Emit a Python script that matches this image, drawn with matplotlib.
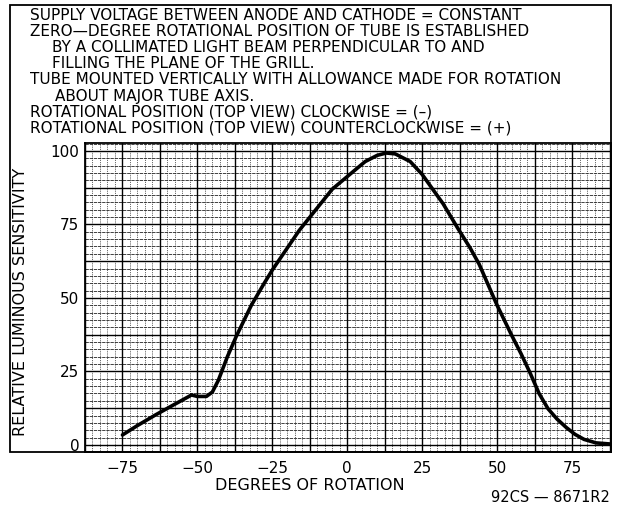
import matplotlib.pyplot as plt
from matplotlib.patches import Rectangle
from matplotlib.ticker import MultipleLocator

# curve
degrees = [-75, -70, -64, -58, -53, -52, -50, -47, -45, -43, -40, -37, -32, -28,
           -25, -16, -5, 2, 6, 10, 13, 16, 21, 25, 32, 37, 41, 44, 50, 55, 58,
           61, 64, 67, 70, 73, 76, 79, 83, 88]
sensitivity = [3.4, 6.6, 10.2, 13.6, 16.4, 17.0, 16.5, 16.5, 18.0, 22.0, 30.0,
               37.0, 47.5, 54.5, 59.5, 73.0, 87.0, 93.0, 96.4, 98.5, 99.3, 99.0,
               96.4, 92.0, 82.0, 73.5, 67.0, 61.5, 47.5, 37.0, 31.0, 24.5, 17.5,
               12.3, 8.8, 6.0, 3.6, 1.9, 0.7, 0.3]

x_ticks = [-75, -50, -25, 0, 25, 50, 75]
y_ticks = [0, 25, 50, 75, 100]

notes = [
    "SUPPLY VOLTAGE BETWEEN ANODE AND CATHODE = CONSTANT",
    "ZERO\u2014DEGREE ROTATIONAL POSITION OF TUBE IS ESTABLISHED",
    "BY A COLLIMATED LIGHT BEAM PERPENDICULAR TO AND",
    "FILLING THE PLANE OF THE GRILL.",
    "TUBE MOUNTED VERTICALLY WITH ALLOWANCE MADE FOR ROTATION",
    "ABOUT MAJOR TUBE AXIS.",
    "ROTATIONAL POSITION (TOP VIEW) CLOCKWISE = (\u2013)",
    "ROTATIONAL POSITION (TOP VIEW) COUNTERCLOCKWISE = (+)",
]
note_x = [30, 30, 52, 52, 30, 55, 30, 30]
note_y = [15, 31, 47, 63, 80, 96, 112, 128]

W, H = 618, 508
plt.rcParams["font.family"] = ["DejaVu Sans"]

fig = plt.figure(figsize=(6.18, 5.08), dpi=100)
ax = fig.add_axes([85 / W, 1 - 452 / H, (611 - 85) / W, (452 - 143) / H])

ax.plot(degrees, sensitivity, color="black", lw=2.6, solid_capstyle="round",
        solid_joinstyle="round", zorder=5)

ax.set_xlim(-87.5, 88)
ax.set_ylim(-2.4, 102.7)
ax.set_xticks(x_ticks)
ax.set_yticks(y_ticks)
ax.xaxis.set_minor_locator(MultipleLocator(2.5))
ax.yaxis.set_minor_locator(MultipleLocator(2.5))

# heavy lines every 12.5, light ruling every 2.5
for v in [i * 12.5 for i in range(-7, 8)]:
    ax.axvline(v, color="black", lw=1.0, zorder=2)
for v in [i * 12.5 for i in range(0, 9)]:
    ax.axhline(v, color="black", lw=1.0, zorder=2)
ax.grid(which="minor", axis="y", color="#222222", lw=0.6, ls=(0, (4, 1)))
ax.grid(which="minor", axis="x", color="#333333", lw=0.6, ls=(0, (1, 1.2)))
ax.set_axisbelow(True)

ax.tick_params(which="both", length=0, labelsize=11)
ax.tick_params(axis="x", pad=6.5)
ax.tick_params(axis="y", pad=4)
for s in ax.spines.values():
    s.set_linewidth(1.3)

# outer frame around notes and chart
fig.patches.append(Rectangle((10 / W, 1 - 452 / H), (611 - 10) / W, (452 - 5) / H,
                             transform=fig.transFigure, fill=False,
                             edgecolor="black", lw=1.3))

for t, x, y in zip(notes, note_x, note_y):
    fig.text(x / W, 1 - y / H, t, fontsize=11, va="center", ha="left")

fig.text(21 / W, 1 - 302 / H, "RELATIVE LUMINOUS SENSITIVITY", rotation=90,
         fontsize=11.5, ha="center", va="center")
fig.text(310 / W, 1 - 485 / H, "DEGREES OF ROTATION", fontsize=11.5,
         ha="center", va="center")
fig.text(610 / W, 1 - 498 / H, "92CS \u2014 8671R2", fontsize=10.5,
         ha="right", va="center")

fig.savefig("out.png", dpi=100)
